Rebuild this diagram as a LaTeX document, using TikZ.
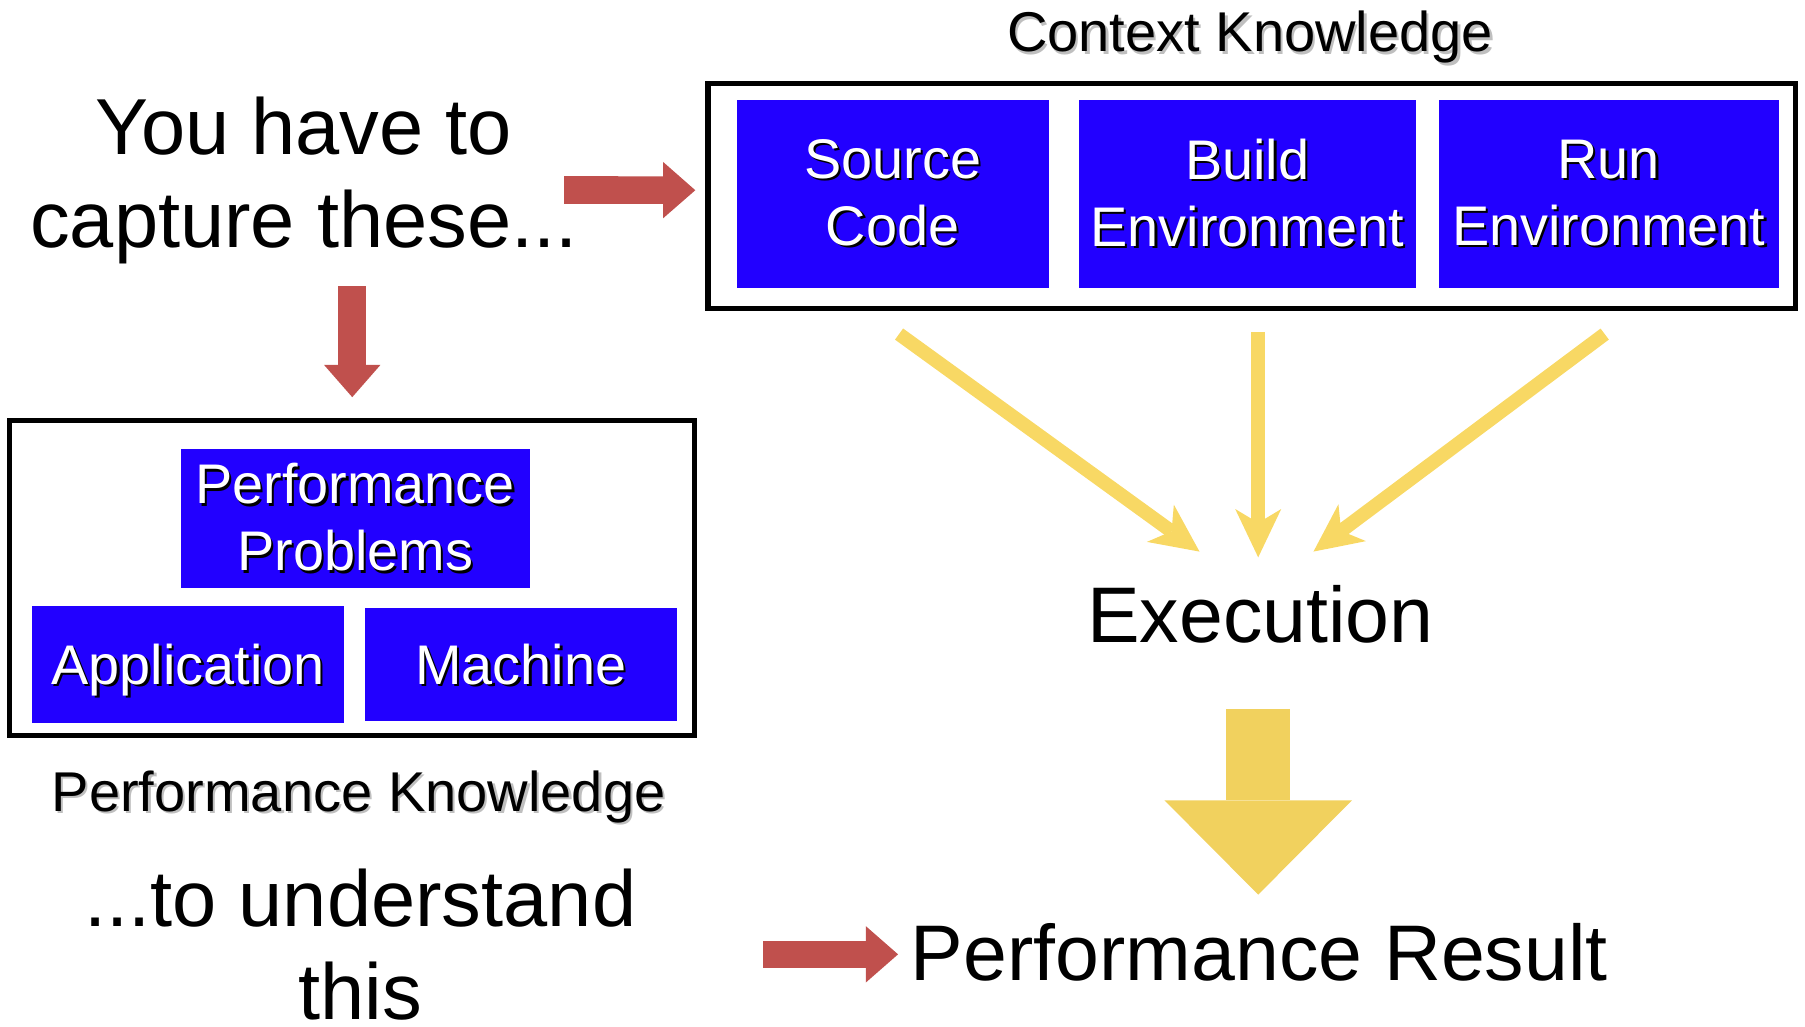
\documentclass[tikz,border=0pt]{standalone}
\usepackage{fontspec}
\setmainfont{Liberation Sans}
\usetikzlibrary{arrows.meta,calc}

\definecolor{boxblue}{RGB}{34,0,255}
\definecolor{arrowred}{RGB}{192,80,77}
\definecolor{lightgold}{RGB}{248,216,100}
\definecolor{deepgold}{RGB}{241,209,94}

% text with a small drop shadow
\newcommand{\shtext}[2]{\rlap{\hspace{2pt}\raisebox{-2pt}{\textcolor{#1}{#2}}}#2}

\begin{document}
\begin{tikzpicture}[x=1pt,y=-1pt,
    bigtext/.style={inner sep=0pt,font=\fontsize{69}{81}\selectfont,align=center},
    restext/.style={inner sep=0pt,font=\fontsize{68.5}{81}\selectfont,anchor=base},
    titletext/.style={inner sep=0pt,font=\fontsize{48.7}{58}\selectfont,anchor=base},
    bluebox/.style={fill=boxblue,text=white,inner sep=0pt,align=center,
                    font=\fontsize{48.5}{58}\selectfont},
    frame/.style={draw=black,line width=4.5pt,inner sep=0pt,outer sep=0pt},
    redarrow/.style={draw=arrowred,line width=24pt,
                     -{Triangle[length=28pt,width=49pt,line width=0pt]}},
    yelarrow/.style={draw=lightgold,line width=12pt,
                     -{Stealth[length=42pt,width=40pt,inset=12pt,line width=0pt]}},
    bigarrow/.style={draw=deepgold,line width=56pt,
                     -{Triangle[length=82pt,width=163pt,line width=0pt]}}]
\useasboundingbox (0,0) rectangle (1568,892);

\node[frame,minimum width=945pt,minimum height=195.5pt] (ctx) at (1087.5,170.25) {};
\node[frame,minimum width=595pt,minimum height=274pt]   (pk)  at (306,502) {};

\begin{scope}[every node/.style={bluebox}]
    \node[minimum width=271pt,minimum height=163pt] (src)   at (775.5,168.5)
        {\shtext{black}{Source}\\\shtext{black}{Code}};
    \node[minimum width=293pt,minimum height=163pt] (build) at (1083.5,168.5)
        {\shtext{black}{Build}\\\shtext{black}{Environment}};
    \node[minimum width=295pt,minimum height=163pt] (run)   at (1397.5,168.5)
        {\shtext{black}{Run}\\\shtext{black}{Environment}};
    \node[minimum width=303pt,minimum height=121pt] (prob)  at (308.5,450.5)
        {\shtext{black}{Performance}\\\shtext{black}{Problems}};
    \node[minimum width=271pt,minimum height=102pt,text depth=0pt] (app)  at (163.5,577)
        {\shtext{black}{Application}};
    \node[minimum width=271pt,minimum height=98pt,text depth=0pt]  (mach) at (452.5,577)
        {\shtext{black}{Machine}};
\end{scope}

\node[titletext] (ctxtitle) at (1086,45)   {\shtext{gray!50}{Context Knowledge}};
\node[titletext] (pktitle)  at (311.5,705) {\shtext{gray!50}{Performance Knowledge}};

\node[bigtext] (capture)    at (264,157)   {You have to\\capture these...};
\node[bigtext] (understand) at (313,820.5) {...to understand\\this};
\node[restext] (exec)   at (1095,558) {Execution};
\node[restext] (result) at (1094,852) {Performance Result};

\draw[redarrow] ($(capture.east)+(-12,8)$) -- ($(ctx.west)+(-11,-5)$);
\draw[redarrow] ($(capture.south -| pk.north)+(0,19)$) -- ($(pk.north)+(0,-20)$);
\draw[redarrow] ($(result.west)+(-128,1.5)$) -- ($(result.west)+(-11,1.5)$);

\draw[yelarrow] ($(src.south)+(5.5,40)$)   -- ($(exec.north)+(-53,-29)$);
\draw[yelarrow] ($(build.south)+(9.5,38)$) -- ($(exec.north)+(-2,-24)$);
\draw[yelarrow] ($(run.south)+(-3.5,40)$)  -- ($(exec.north)+(46,-29)$);

\draw[bigarrow] ($(exec.south)+(-2,57)$) -- ($(result.north)+(-1,-25)$);
\end{tikzpicture}
\end{document}
